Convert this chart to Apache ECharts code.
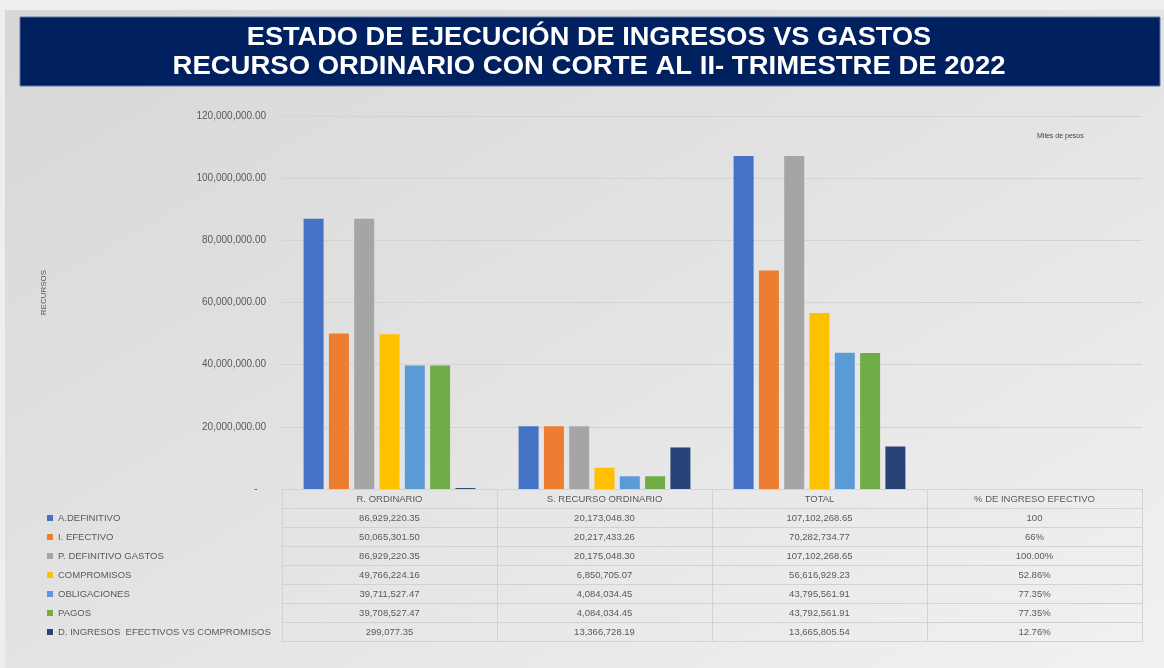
<!DOCTYPE html>
<html>
<head>
<meta charset="utf-8">
<script src="https://cdn.jsdelivr.net/npm/echarts@6/dist/echarts.min.js"></script>
<style>
  html, body { margin: 0; padding: 0; background: #efefef; }
  #wrap { position: relative; width: 1164px; height: 668px; overflow: hidden; background: #eeeeee; }
  #bg { position: absolute; left: 5px; top: 10px; right: 0; bottom: 0;
        background: linear-gradient(to bottom right, #d7d7d7 0%, #e3e3e3 50%, #f1f1f1 100%); }
  #chart { position: absolute; left: 0; top: 0; width: 1164px; height: 668px; }
</style>
</head>
<body>
<div id="wrap"><div id="bg"></div><div id="chart"></div></div>
<script>
// ---- data ----
const titleLines = ['ESTADO DE EJECUCIÓN DE INGRESOS VS GASTOS', 'RECURSO ORDINARIO CON CORTE AL II- TRIMESTRE DE 2022'];
const categories = ['R. ORDINARIO', 'S. RECURSO ORDINARIO', 'TOTAL', '% DE INGRESO EFECTIVO'];
const seriesNames = ['A.DEFINITIVO', 'I. EFECTIVO', 'P. DEFINITIVO GASTOS', 'COMPROMISOS', 'OBLIGACIONES', 'PAGOS', 'D. INGRESOS  EFECTIVOS VS COMPROMISOS'];
const aDefinitivo   = [86929220.35, 20173048.30, 107102268.65, 100];
const iEfectivo     = [50065301.50, 20217433.26, 70282734.77, 0.66];
const pDefinitivo   = [86929220.35, 20175048.30, 107102268.65, 1.00];
const compromisos   = [49766224.16, 6850705.07, 56616929.23, 0.5286];
const obligaciones  = [39711527.47, 4084034.45, 43795561.91, 0.7735];
const pagos         = [39708527.47, 4084034.45, 43792561.91, 0.7735];
const dIngresos     = [299077.35, 13366728.19, 13665805.54, 0.1276];
const pctLabels     = ['100', '66%', '100.00%', '52.86%', '77.35%', '77.35%', '12.76%'];
const yTicks        = [0, 20000000, 40000000, 60000000, 80000000, 100000000, 120000000];
const unitNote      = 'Miles de pesos';
const yAxisName     = 'RECURSOS';

const seriesData = [aDefinitivo, iEfectivo, pDefinitivo, compromisos, obligaciones, pagos, dIngresos];
const colors = ['#4472C4', '#ED7D31', '#A5A5A5', '#FFC000', '#5B9BD5', '#70AD47', '#264478'];

const fmt = v => v.toLocaleString('en-US', { minimumFractionDigits: 2, maximumFractionDigits: 2 });

const ROW = 19;
const lineColor = '#d2d2d2';
const textColor = '#595959';
const FONT = '"Liberation Sans", Arial, sans-serif';

const xAxes = [{
  type: 'category', data: categories, gridIndex: 0, position: 'bottom',
  axisLine: { show: true, lineStyle: { color: lineColor } },
  axisTick: { show: true, interval: 0, length: ROW, inside: false, lineStyle: { color: lineColor } },
  axisLabel: { interval: 0, margin: 5, fontSize: 9.5, color: textColor, fontFamily: FONT },
  splitLine: { show: false }
}];
seriesData.forEach((arr, i) => {
  const row = arr.map((v, j) => j === 3 ? pctLabels[i] : fmt(v));
  xAxes.push({
    type: 'category', data: row, gridIndex: 0, position: 'bottom', offset: ROW * (i + 1),
    axisLine: { show: true, lineStyle: { color: lineColor } },
    axisTick: { show: true, interval: 0, length: ROW, inside: false, lineStyle: { color: lineColor } },
    axisLabel: { interval: 0, margin: 5, fontSize: 9.5, color: textColor, fontFamily: FONT },
    splitLine: { show: false }
  });
});
xAxes.push({
  type: 'category', data: categories, gridIndex: 0, position: 'bottom', offset: ROW * 8,
  axisLine: { show: true, lineStyle: { color: lineColor } },
  axisTick: { show: false }, axisLabel: { show: false }, splitLine: { show: false }
});

const titleStyle = { align: 'center', verticalAlign: 'middle', fill: '#ffffff', fontSize: 26,
  fontWeight: 'bold', fontFamily: '"Liberation Sans", Arial, sans-serif' };

const chart = echarts.init(document.getElementById('chart'), null, { renderer: 'canvas' });
chart.setOption({
  backgroundColor: 'transparent',
  animation: false,
  color: colors,
  title: {
    text: unitNote, left: 1032, top: 128,
    textStyle: { fontSize: 7, fontWeight: 'normal', color: '#404040', fontFamily: FONT }
  },
  graphic: [
    { type: 'rect', shape: { x: 20, y: 17, width: 1140, height: 69 },
      style: { fill: '#002060', stroke: '#5a77a8', lineWidth: 1 } },
    { type: 'text', x: 589, y: 38, scaleX: 1.045, scaleY: 1.0,
      style: Object.assign({ text: titleLines[0], x: 0, y: 0 }, titleStyle) },
    { type: 'text', x: 589, y: 67, scaleX: 1.058, scaleY: 1.0,
      style: Object.assign({ text: titleLines[1], x: 0, y: 0 }, titleStyle) }
  ],
  legend: {
    data: seriesNames, orient: 'vertical', left: 47, top: 512, padding: 0,
    icon: 'rect', itemWidth: 6, itemHeight: 6, itemGap: 7, selectedMode: false,
    textStyle: { fontSize: 9.5, color: textColor, fontFamily: FONT, lineHeight: 12 }
  },
  grid: { left: 282, right: 22, top: 116, bottom: 179, containLabel: false },
  xAxis: xAxes,
  yAxis: {
    type: 'value', min: 0, max: yTicks[yTicks.length - 1], interval: yTicks[1] - yTicks[0],
    name: yAxisName, nameLocation: 'middle', nameGap: 234, nameRotate: 90,
    nameTextStyle: { fontSize: 8, color: textColor, fontFamily: FONT, padding: [0, 0, 0, 20] },
    axisLine: { show: false }, axisTick: { show: false },
    axisLabel: { margin: 16, fontSize: 10, color: textColor, fontFamily: FONT,
      formatter: v => v === 0 ? '-   ' : fmt(v) },
    splitLine: { lineStyle: { color: '#d3d3d3' } }
  },
  series: seriesData.map((arr, i) => ({
    name: seriesNames[i], type: 'bar', xAxisIndex: 0, data: arr,
    barWidth: 20, barGap: '26.5%',
    itemStyle: { color: colors[i] }
  }))
});
</script>
</body>
</html>
